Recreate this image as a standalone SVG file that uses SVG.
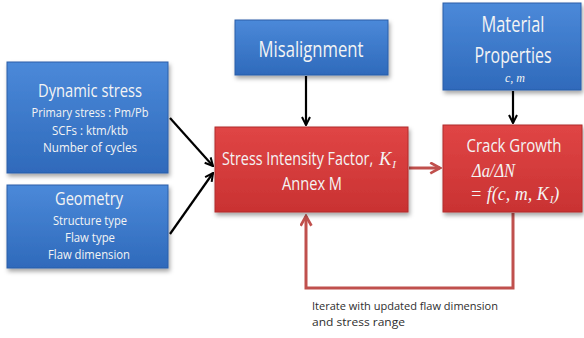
<svg xmlns="http://www.w3.org/2000/svg" width="584" height="338" viewBox="0 0 584 338">
<style>
.t{font-family:"Open Sans","Noto Sans","DejaVu Sans",sans-serif;fill:#f4f4f4;text-anchor:middle}
.ts{font-family:"Open Sans","Noto Sans","DejaVu Sans",sans-serif;fill:#f4f4f4;text-anchor:start}
.m{font-family:"Liberation Serif","DejaVu Serif",serif;font-style:italic;fill:#f4f4f4}
.blue{fill:url(#gb);stroke:#2a5ea8;stroke-width:1}
.red{fill:url(#gr);stroke:#b02c2c;stroke-width:1}
.ka{stroke:#000;stroke-width:2.2;fill:none}
.ra{stroke:#c0504d;stroke-width:3;fill:none}
.note{font-family:"Open Sans","Noto Sans",sans-serif;fill:#2e2e2e;font-size:11.5px}
</style>
<defs>
<linearGradient id="gb" x1="0" y1="0" x2="0" y2="1">
<stop offset="0" stop-color="#4b89d9"/>
<stop offset="1" stop-color="#2f6abb"/>
</linearGradient>
<linearGradient id="gr" x1="0" y1="0" x2="0" y2="1">
<stop offset="0" stop-color="#e04545"/>
<stop offset="1" stop-color="#c93232"/>
</linearGradient>
<filter id="sh" x="-10%" y="-10%" width="130%" height="140%">
<feDropShadow dx="1.5" dy="3" stdDeviation="2" flood-color="#000" flood-opacity="0.35"/>
</filter>
<marker id="ak" viewBox="0 0 10 10" refX="9" refY="5" markerWidth="10" markerHeight="10" markerUnits="userSpaceOnUse" orient="auto">
<path d="M1,1 L9,5 L1,9" fill="none" stroke="#000" stroke-width="2"/>
</marker>
<marker id="ar" viewBox="0 0 12 12" refX="10" refY="6" markerWidth="13" markerHeight="13" markerUnits="userSpaceOnUse" orient="auto">
<path d="M1,1 L10,6 L1,11" fill="none" stroke="#c0504d" stroke-width="2.5"/>
</marker>
</defs>
<rect width="584" height="338" fill="#fff"/>

<g id="connectors">
<line class="ka" x1="170" y1="118" x2="213" y2="166" marker-end="url(#ak)"/>
<line class="ka" x1="170" y1="234" x2="213" y2="173" marker-end="url(#ak)"/>
<line class="ka" x1="306" y1="76" x2="306" y2="125" marker-end="url(#ak)"/>
<line class="ka" x1="513" y1="91" x2="513" y2="123" marker-end="url(#ak)"/>
<line class="ra" x1="409" y1="168" x2="440" y2="168" marker-end="url(#ar)"/>
<polyline class="ra" points="513,213 513,288 306,288 306,216" marker-end="url(#ar)"/>
</g>

<g id="dynamic">
<rect class="blue" x="7" y="62" width="161" height="111" filter="url(#sh)"/>
<text class="t" x="90" y="97" font-size="18" textLength="104" lengthAdjust="spacingAndGlyphs">Dynamic stress</text>
<text class="t" x="90" y="117" font-size="12.5" textLength="117" lengthAdjust="spacingAndGlyphs">Primary stress : Pm/Pb</text>
<text class="t" x="90" y="135" font-size="12.5" textLength="76" lengthAdjust="spacingAndGlyphs">SCFs : ktm/ktb</text>
<text class="t" x="90" y="152" font-size="12.5" textLength="94" lengthAdjust="spacingAndGlyphs">Number of cycles</text>
</g>

<g id="geometry">
<rect class="blue" x="7" y="185" width="161" height="83" filter="url(#sh)"/>
<text class="t" x="89" y="205" font-size="18" textLength="68" lengthAdjust="spacingAndGlyphs">Geometry</text>
<text class="t" x="90" y="225" font-size="12.5" textLength="74" lengthAdjust="spacingAndGlyphs">Structure type</text>
<text class="t" x="90" y="242" font-size="12.5" textLength="50" lengthAdjust="spacingAndGlyphs">Flaw type</text>
<text class="t" x="89" y="259" font-size="12.5" textLength="82" lengthAdjust="spacingAndGlyphs">Flaw dimension</text>
</g>

<g id="misalignment">
<rect class="blue" x="235" y="20" width="153" height="55" filter="url(#sh)"/>
<text class="t" x="311" y="57" font-size="21" textLength="105" lengthAdjust="spacingAndGlyphs">Misalignment</text>
</g>

<g id="material">
<rect class="blue" x="443" y="3" width="138" height="87" filter="url(#sh)"/>
<text class="t" x="513" y="32" font-size="21" textLength="63" lengthAdjust="spacingAndGlyphs">Material</text>
<text class="t" x="513" y="63" font-size="21" textLength="77" lengthAdjust="spacingAndGlyphs">Properties</text>
<text class="m" x="515" y="82" font-size="12" text-anchor="middle">c, m</text>
</g>

<g id="sif">
<rect class="red" x="215" y="127" width="193" height="85" filter="url(#sh)"/>
<text class="ts" transform="translate(222,165) scale(0.82,1)" font-size="17.5">Stress Intensity Factor,</text>
<text class="m" x="379" y="165" font-size="18.5">K<tspan font-size="11" dx="1" dy="3">I</tspan></text>
<text class="t" x="312" y="190" font-size="17.5" textLength="60" lengthAdjust="spacingAndGlyphs">Annex M</text>
</g>

<g id="crack">
<rect class="red" x="443" y="125" width="139" height="87" filter="url(#sh)"/>
<text class="t" x="514" y="152" font-size="17.5" textLength="95" lengthAdjust="spacingAndGlyphs">Crack Growth</text>
<text class="m" x="472" y="177" font-size="18" textLength="43" lengthAdjust="spacingAndGlyphs">Δa/ΔN</text>
<text class="m" x="470" y="200" font-size="18">= f(c, m, K<tspan font-size="11" dx="1" dy="3">I</tspan><tspan dy="-3">)</tspan></text>
</g>

<g id="note">
<text class="note" x="312" y="310" textLength="186" lengthAdjust="spacingAndGlyphs">Iterate with updated flaw dimension</text>
<text class="note" x="312" y="326" textLength="93" lengthAdjust="spacingAndGlyphs">and stress range</text>
</g>
</svg>
